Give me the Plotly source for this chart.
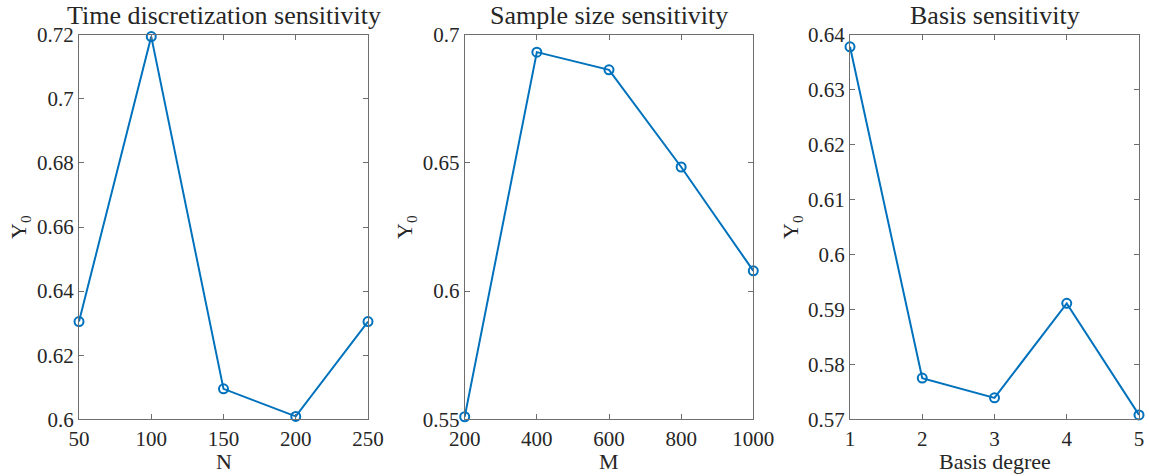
import plotly.graph_objects as go

# Data
N_vals = [50, 100, 150, 200, 250]
Y_N = [0.6305, 0.7194, 0.6095, 0.6009, 0.6305]

M_vals = [200, 400, 600, 800, 1000]
Y_M = [0.5510, 0.6932, 0.6863, 0.6484, 0.6079]

deg_vals = [1, 2, 3, 4, 5]
Y_deg = [0.6378, 0.5775, 0.5739, 0.5911, 0.5708]

titles = ["Time discretization sensitivity", "Sample size sensitivity", "Basis sensitivity"]
xlabels = ["N", "M", "Basis degree"]

W, H = 1149, 476
xdoms = [(79, 368), (464.7, 753.3), (850, 1139)]
ytop, ybot = 34.7, 419.3
ydom = [(H - ybot) / H, (H - ytop) / H]

xranges = [[50, 250], [200, 1000], [1, 5]]
xticks = [N_vals, M_vals, deg_vals]
yranges = [[0.6, 0.72], [0.55, 0.7], [0.57, 0.64]]
yticks = [[0.6, 0.62, 0.64, 0.66, 0.68, 0.7, 0.72],
          [0.55, 0.6, 0.65, 0.7],
          [0.57, 0.58, 0.59, 0.6, 0.61, 0.62, 0.63, 0.64]]
ylabel_x = [20, 406, 792]

series = [(N_vals, Y_N), (M_vals, Y_M), (deg_vals, Y_deg)]

fig = go.Figure()
FONT = "Liberation Serif"
axcol = "#6e6e6e"
txtcol = "#262626"

for i, (xs, ys) in enumerate(series):
    k = "" if i == 0 else str(i + 1)
    fig.add_trace(go.Scatter(
        x=xs, y=ys, mode="lines+markers",
        line=dict(color="#0072BD", width=2),
        marker=dict(symbol="circle-open", size=9, color="#0072BD", line=dict(width=2)),
        xaxis="x" + k, yaxis="y" + k, showlegend=False, cliponaxis=False))
    x0, x1 = xdoms[i]
    common = dict(showgrid=False, zeroline=False, showline=True, linecolor=axcol, linewidth=1,
                  mirror="ticks", ticks="inside", ticklen=5, tickcolor=axcol,
                  automargin=False,
                  tickfont=dict(family=FONT, size=21, color=txtcol))
    fig.layout["xaxis" + k] = dict(domain=[x0 / W, x1 / W], range=xranges[i],
                                   tickvals=xticks[i], anchor="y" + k, **common)
    fig.layout["yaxis" + k] = dict(domain=ydom, range=yranges[i], tickvals=yticks[i],
                                   ticktext=[f"{v:g}" for v in yticks[i]],
                                   anchor="x" + k, **common)
    cx = (x0 + x1) / 2
    fig.add_annotation(x=cx / W, y=(H - 15) / H, xref="paper", yref="paper",
                       text=titles[i], showarrow=False, xanchor="center", yanchor="middle",
                       font=dict(family=FONT, size=26, color=txtcol))
    fig.add_annotation(x=cx / W, y=(H - 461) / H, xref="paper", yref="paper",
                       text=xlabels[i], showarrow=False, xanchor="center", yanchor="middle",
                       font=dict(family=FONT, size=22, color=txtcol))
    fig.add_annotation(x=ylabel_x[i] / W, y=(H - 227) / H, xref="paper", yref="paper",
                       text="Y<sub>0</sub>", showarrow=False, textangle=-90,
                       xanchor="center", yanchor="middle",
                       font=dict(family=FONT, size=22, color=txtcol))

fig.update_layout(template="none", width=W, height=H, margin=dict(l=0, r=0, t=0, b=0),
                  plot_bgcolor="white", paper_bgcolor="white")
fig.write_html("out.html", config={"displayModeBar": False},
               post_script="document.body.style.margin='0';document.body.style.overflow='hidden';")
